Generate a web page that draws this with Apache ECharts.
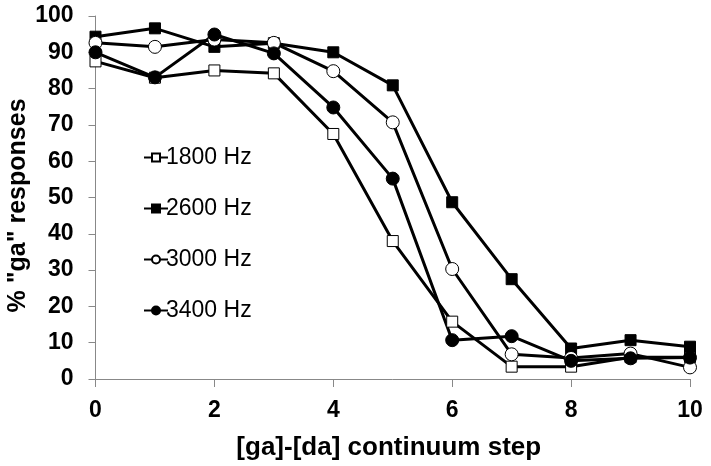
<!DOCTYPE html>
<html>
<head>
<meta charset="utf-8">
<script src="https://cdn.jsdelivr.net/npm/echarts@6/dist/echarts.min.js"></script>
<style>
  html, body { margin: 0; padding: 0; background: #fff; }
  #chart { width: 711px; height: 466px; }
</style>
</head>
<body>
<div id="chart"></div>
<script>
// continuum steps
var steps = [0, 1, 2, 3, 4, 5, 6, 7, 8, 9, 10];
// % "ga" responses per condition
var hz1800 = [87.5, 83, 85, 84.2, 67.5, 38, 15.8, 3.4, 3.4, 6, 6];
var hz2600 = [94.3, 96.6, 91.5, 92.5, 90, 80.9, 48.7, 27.5, 8.4, 10.7, 8.9];
var hz3000 = [92.6, 91.5, 93.5, 92.6, 84.8, 70.7, 30.3, 6.8, 5.8, 7, 3.2];
var hz3400 = [90, 83.1, 94.9, 89.7, 74.8, 55.2, 10.7, 11.8, 5, 5.7, 5.9];

function pairs(vals) {
  return steps.map(function (s, i) { return [s, vals[i]]; });
}

var font = "Arial, 'Liberation Sans', sans-serif";

function mkSeries(name, vals, symbol, fill, size) {
  return {
    name: name,
    type: "line",
    data: pairs(vals),
    symbol: symbol,
    symbolSize: size,
    lineStyle: { color: "#000", width: 3 },
    itemStyle: { color: fill, borderColor: "#000", borderWidth: 1 },
    z: 2
  };
}

var myChart = echarts.init(document.getElementById("chart"));
var option = {
  animation: false,
  backgroundColor: "#fff",
  grid: { left: 95.5, right: 21, top: 16, bottom: 87, outerBoundsMode: "none", containLabel: false },
  legend: {
    orient: "vertical",
    left: 138,
    top: 141,
    itemWidth: 24,
    itemHeight: 10,
    itemGap: 28,
    textStyle: { fontFamily: font, fontSize: 23, color: "#000", padding: [0, 0, 0, -7] },
    data: ["1800 Hz", "2600 Hz", "3000 Hz", "3400 Hz"]
  },
  xAxis: {
    type: "value",
    min: 0,
    max: 10,
    interval: 2,
    name: "[ga]-[da] continuum step",
    nameLocation: "middle",
    nameGap: 56,
    nameMoveOverlap: false,
    nameTextStyle: { fontFamily: font, fontSize: 26, fontWeight: "bold", color: "#000", padding: [0, 8, 0, 0] },
    axisLine: { lineStyle: { color: "#888", width: 1 } },
    axisTick: { show: true, length: 8, lineStyle: { color: "#888" } },
    axisLabel: { fontFamily: font, fontSize: 23, fontWeight: "bold", color: "#000", margin: 20 },
    splitLine: { show: false }
  },
  yAxis: {
    type: "value",
    min: 0,
    max: 100,
    interval: 10,
    name: '% "ga" responses',
    nameLocation: "middle",
    nameGap: 65,
    nameMoveOverlap: false,
    nameTextStyle: { fontFamily: font, fontSize: 25, fontWeight: "bold", color: "#000", padding: [0, 16, 0, 0] },
    axisLine: { show: true, lineStyle: { color: "#888", width: 1 } },
    axisTick: { show: true, length: 7, lineStyle: { color: "#888" } },
    axisLabel: { fontFamily: font, fontSize: 23, fontWeight: "bold", color: "#000", margin: 22 },
    splitLine: { show: false }
  },
  series: [
    mkSeries("1800 Hz", hz1800, "rect", "#fff", 11),
    mkSeries("2600 Hz", hz2600, "rect", "#000", 11),
    mkSeries("3000 Hz", hz3000, "circle", "#fff", 13),
    mkSeries("3400 Hz", hz3400, "circle", "#000", 13)
  ]
};
myChart.setOption(option);
</script>
</body>
</html>
